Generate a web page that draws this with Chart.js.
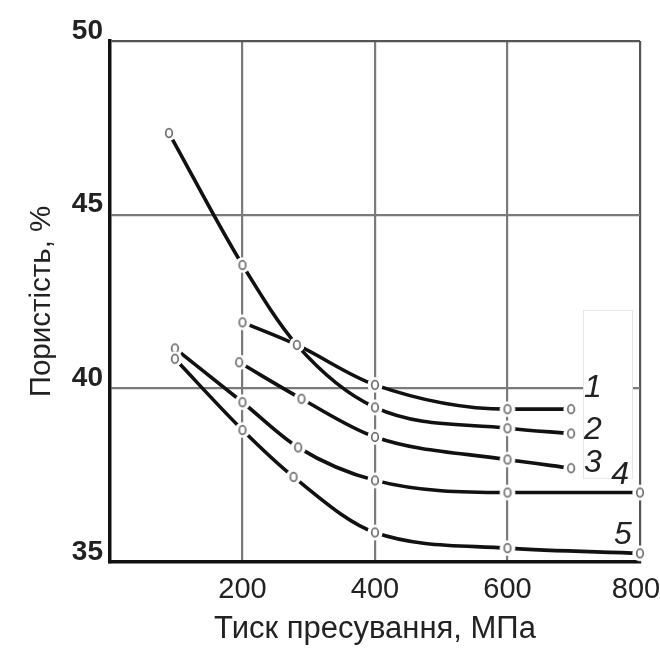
<!DOCTYPE html>
<html>
<head>
<meta charset="utf-8">
<script src="https://cdn.jsdelivr.net/npm/chart.js@4.4.1/dist/chart.umd.min.js"></script>
<style>
  html,body{margin:0;padding:0;background:#fff;}
  #wrap{width:660px;height:650px;}
</style>
</head>
<body>
<div id="wrap"><canvas id="chart"></canvas></div>
<script>
/* пористість від тиску пресування, 5 кривих */

const X_TICKS = [200, 400, 600, 800];
const Y_TICKS = [35, 40, 45, 50];
const CURVE_NAMES = ["1", "2", "3", "4", "5"];

// тиск, МПа / пористість, %
const c1x = [200, 282, 400, 600, 696];
const c1y = [41.9, 41.25, 40.1, 39.4, 39.4];
const c2x = [89, 200, 282, 400, 600, 696];
const c2y = [47.35, 43.55, 41.25, 39.45, 38.85, 38.7];
const c3x = [195, 289, 400, 600, 696];
const c3y = [40.75, 39.7, 38.6, 37.95, 37.7];
const c4x = [98, 200, 284, 400, 600, 800];
const c4y = [41.15, 39.6, 38.3, 37.35, 37.0, 37.0];
const c5x = [98, 200, 277, 400, 600, 800];
const c5y = [40.85, 38.8, 37.45, 35.85, 35.4, 35.25];

// where the curve numbers sit (x, y in axis units)
const LABEL_AT = [[729, 40.0], [729, 38.8], [729, 37.85], [770, 37.5], [774, 35.78]];
const LABEL_BOX = [714, 788, 42.25, 37.42];

/* ---------- helpers ---------- */
const pts = (xs, ys) => xs.map((x, i) => ({ x, y: ys[i] }));

function makeMarker(){
  const m = document.createElement("canvas");
  m.width = 18; m.height = 18;
  const g = m.getContext("2d");
  g.fillStyle = "#fff";
  g.beginPath(); g.arc(9, 9, 7.5, 0, Math.PI*2); g.fill();
  g.strokeStyle = "#6e6e6e"; g.lineWidth = 1.7;
  g.beginPath(); g.ellipse(9, 9, 3.3, 4.3, 0, 0, Math.PI*2); g.stroke();
  return m;
}
const MARKER = makeMarker();

Chart.defaults.font.family = '"Liberation Sans", Arial, sans-serif';
Chart.defaults.color = "#222";

/* ---------- labels + markers on top ---------- */
const curveLabels = {
  id: "curveLabels",
  beforeDatasetsDraw(chart){
    const { ctx, scales: { x, y } } = chart;
    const l = x.getPixelForValue(LABEL_BOX[0]), r = x.getPixelForValue(LABEL_BOX[1]);
    const t = y.getPixelForValue(LABEL_BOX[2]), b = y.getPixelForValue(LABEL_BOX[3]);
    ctx.save();
    ctx.fillStyle = "#fff";
    ctx.fillRect(l, t, r - l, b - t);
    ctx.strokeStyle = "#e6e6e6"; ctx.lineWidth = 1;
    ctx.strokeRect(Math.round(l) + 0.5, Math.round(t) + 0.5, r - l, b - t);
    ctx.restore();
  },
  afterDatasetsDraw(chart){
    const { ctx, scales: { x, y } } = chart;
    // redraw markers so their white halo cuts every line
    chart.data.datasets.forEach((d, i) => {
      chart.getDatasetMeta(i).data.forEach(p => p.draw(ctx, chart.chartArea));
    });
    ctx.save();
    ctx.font = 'italic 32px "Liberation Sans", Arial, sans-serif';
    ctx.fillStyle = "#222";
    ctx.textAlign = "center";
    ctx.textBaseline = "middle";
    CURVE_NAMES.forEach((n, i) => {
      ctx.fillText(n, x.getPixelForValue(LABEL_AT[i][0]), y.getPixelForValue(LABEL_AT[i][1]));
    });
    ctx.restore();
  }
};

const series = [pts(c1x, c1y), pts(c2x, c2y), pts(c3x, c3y), pts(c4x, c4y), pts(c5x, c5y)];

new Chart(document.getElementById("chart"), {
  type: "line",
  data: {
    datasets: series.map((data, i) => ({
      label: CURVE_NAMES[i],
      data,
      borderColor: "#111",
      borderWidth: 3.6,
      fill: false,
      cubicInterpolationMode: "monotone",
      pointStyle: MARKER,
      pointRadius: 5,
      clip: false
    }))
  },
  options: {
    responsive: true,
    maintainAspectRatio: false,
    animation: false,
    events: [],
    layout: { padding: { top: 41, right: 20, bottom: 0, left: 0 } },
    plugins: { legend: { display: false }, tooltip: { enabled: false } },
    scales: {
      x: {
        type: "linear",
        min: 0, max: 800,
        afterBuildTicks: s => { s.ticks = [0, ...X_TICKS].map(v => ({ value: v })); },
        afterFit: s => { s.height = 88; s.paddingLeft = 0; s.paddingRight = 0; },
        ticks: {
          // last label sits a little inside, as in the original
          callback: v => (v === 0 ? "" : (v === 800 ? "800 " : String(v))),
          font: { size: 29 },
          color: "#222",
          padding: 11,
          maxRotation: 0
        },
        grid: {
          drawTicks: false,
          color: c => (c.tick && c.tick.value === 0 ? "rgba(0,0,0,0)" : (c.tick && c.tick.value === 800 ? "#555" : "#7a7a7a")),
          lineWidth: 2.2
        },
        border: { color: "#111", width: 3.5 },
        title: {
          display: true,
          text: "Тиск пресування, МПа",
          font: { size: 31 },
          color: "#222",
          padding: { top: 2, bottom: 2 }
        }
      },
      y: {
        min: 35, max: 50,
        afterBuildTicks: s => { s.ticks = Y_TICKS.map(v => ({ value: v })); },
        afterFit: s => { s.width = 110; s.paddingTop = 0; s.paddingBottom = 0; },
        ticks: {
          font: { size: 28, weight: "bold" },
          color: "#222",
          padding: 7,
          labelOffset: -10
        },
        grid: {
          drawTicks: false,
          color: c => (c.tick && c.tick.value === 35 ? "rgba(0,0,0,0)" : (c.tick && c.tick.value === 50 ? "#555" : "#7a7a7a")),
          lineWidth: 2.2
        },
        border: { color: "#111", width: 3.5 },
        title: {
          display: true,
          text: "Пористість, %",
          font: { size: 29.5 },
          color: "#222",
          padding: { top: 24, bottom: 0 }
        }
      }
    }
  },
  plugins: [curveLabels]
});
</script>
</body>
</html>
